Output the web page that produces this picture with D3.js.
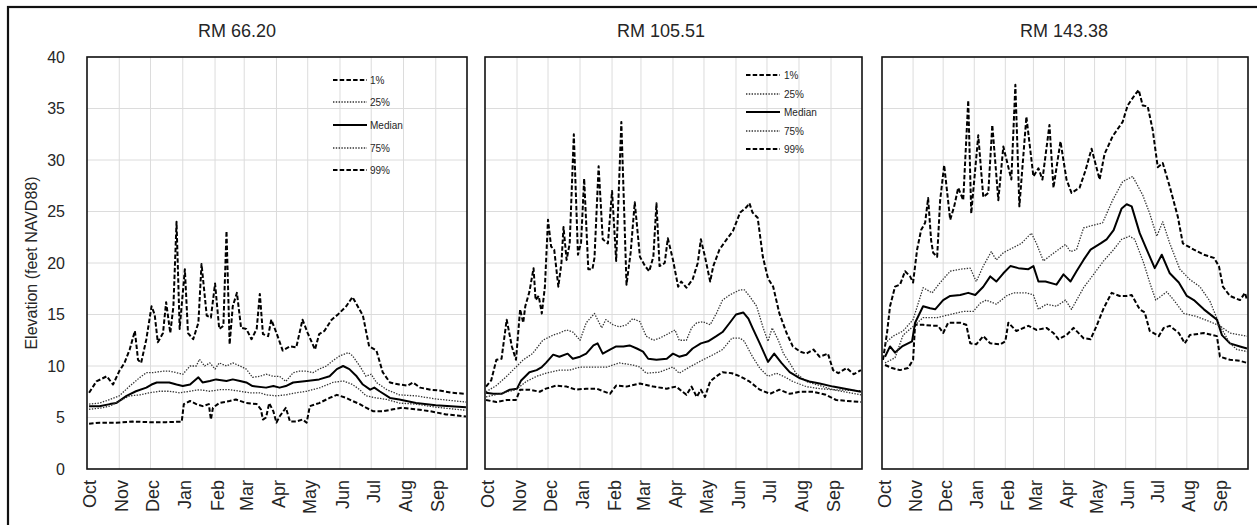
<!DOCTYPE html>
<html><head><meta charset="utf-8">
<script src="https://cdn.jsdelivr.net/npm/d3@7"></script>
<style>body{margin:0;background:#fff}svg{display:block}</style>
</head><body>
<svg id="chart" width="1257" height="525"></svg>
<script>
// ---------- data ----------
const monthLabels = ["Oct","Nov","Dec","Jan","Feb","Mar","Apr","May","Jun","Jul","Aug","Sep"];
const yTickValues = [0,5,10,15,20,25,30,35,40];
const seriesNames = ["1%","25%","Median","75%","99%"];
const yTitle = "Elevation (feet NAVD88)";
const panelTitles = ["RM 66.20","RM 105.51","RM 143.38"];

// values: [days since Oct 1, elevation (ft)]
const rm66_p01 = [[2,7.4],[9,8.5],[19,9.0],[25,8.2],[31,9.5],[36,10.3],[41,11.6],[46,13.4],[49,10.6],[52,10.3],[57,12.6],[62,15.8],[65,15.0],[68,12.3],[73,13.2],[76,16.2],[80,13.2],[83,15.8],[86,24.0],[89,13.6],[94,19.4],[97,13.2],[102,12.6],[107,14.2],[110,19.9],[115,14.9],[119,14.7],[123,18.0],[127,13.6],[131,13.9],[134,23.1],[137,12.1],[140,15.8],[144,17.1],[148,13.7],[153,13.6],[158,12.6],[163,13.6],[166,17.0],[169,13.1],[174,12.9],[177,14.5],[182,13.2],[188,11.5],[195,11.9],[201,11.8],[207,14.5],[212,13.2],[219,11.6],[223,13.1],[228,13.4],[235,14.5],[241,15.0],[249,15.8],[255,16.7],[260,15.8],[265,14.9],[271,11.9],[278,11.5],[284,9.4],[291,8.4],[300,8.2],[308,8.1],[313,8.4],[320,7.9],[330,7.7],[340,7.6],[350,7.4],[364,7.3]];
const rm66_p25 = [[2,6.3],[12,6.4],[22,6.75],[31,7.1],[41,8.05],[51,8.9],[57,9.35],[63,9.35],[73,9.5],[79,9.5],[86,9.35],[92,9.2],[99,10.0],[105,10.0],[108,10.65],[113,10.0],[118,10.3],[123,9.7],[127,10.3],[134,10.0],[140,10.3],[147,10.0],[153,9.7],[159,8.9],[166,9.0],[172,9.2],[179,9.0],[185,9.0],[191,8.5],[198,9.35],[204,9.5],[211,9.5],[217,9.35],[223,9.7],[230,10.0],[236,10.5],[243,11.0],[251,11.3],[255,11.0],[262,10.0],[268,9.0],[273,9.2],[278,8.4],[288,7.7],[300,7.2],[316,7.1],[335,6.8],[364,6.5]];
const rm66_med = [[2,6.1],[12,6.1],[22,6.3],[28,6.4],[38,7.1],[47,7.55],[57,7.9],[62,8.2],[67,8.4],[73,8.4],[79,8.4],[86,8.2],[92,8.05],[99,8.2],[107,8.9],[111,8.4],[118,8.55],[124,8.7],[134,8.55],[140,8.7],[147,8.55],[153,8.4],[159,8.05],[172,7.9],[179,8.05],[185,7.9],[191,8.05],[198,8.4],[211,8.55],[223,8.7],[233,9.0],[240,9.7],[246,10.0],[252,9.7],[259,9.0],[265,8.2],[272,7.7],[276,7.9],[281,7.55],[291,6.9],[300,6.75],[316,6.4],[335,6.2],[364,6.0]];
const rm66_p75 = [[2,5.8],[12,5.9],[22,6.1],[31,6.6],[41,7.1],[51,7.2],[60,7.4],[70,7.55],[79,7.55],[89,7.4],[99,7.55],[108,7.7],[118,7.55],[127,7.7],[137,7.7],[147,7.55],[156,7.4],[166,7.4],[172,7.2],[182,7.1],[191,7.2],[201,7.4],[211,7.55],[224,7.9],[236,8.4],[246,8.55],[255,8.2],[262,7.7],[268,7.1],[278,6.9],[288,6.75],[300,6.4],[316,6.3],[335,6.0],[364,5.7]];
const rm66_p99 = [[2,4.4],[12,4.5],[28,4.5],[44,4.6],[60,4.55],[76,4.55],[91,4.6],[93,6.3],[99,6.6],[105,6.3],[111,6.1],[117,6.3],[119,4.8],[121,5.95],[127,6.4],[137,6.6],[143,6.75],[153,6.4],[163,6.3],[167,5.8],[169,4.8],[172,5.0],[175,6.4],[179,5.6],[182,4.5],[185,5.1],[191,5.95],[195,4.6],[201,4.6],[207,4.8],[211,4.5],[214,6.1],[223,6.4],[233,6.9],[240,7.2],[249,6.9],[255,6.6],[262,6.3],[268,5.95],[275,5.6],[284,5.6],[294,5.8],[303,5.95],[316,5.8],[330,5.6],[345,5.3],[364,5.1]];

const rm105_p01 = [[1,8.0],[6,8.6],[11,10.6],[16,10.7],[21,14.5],[26,11.9],[30,10.6],[34,15.5],[37,14.2],[39,15.8],[43,17.2],[47,19.5],[49,16.4],[52,16.8],[55,15.1],[58,17.7],[61,24.2],[64,21.6],[67,21.3],[71,17.7],[74,20.0],[76,23.5],[79,20.3],[82,21.9],[86,32.5],[90,20.8],[93,22.0],[96,28.2],[100,19.4],[104,19.4],[106,20.5],[110,29.4],[114,22.3],[119,21.9],[123,27.0],[127,20.2],[132,33.7],[137,17.9],[141,21.0],[145,25.9],[150,20.6],[155,19.7],[159,19.2],[163,20.6],[166,25.8],[169,19.7],[174,20.0],[177,22.4],[182,20.3],[187,17.7],[190,18.2],[195,17.6],[201,18.4],[206,20.0],[209,22.3],[213,20.6],[218,18.2],[221,19.7],[227,21.3],[234,22.3],[240,23.1],[247,24.9],[253,25.4],[256,25.8],[259,24.9],[264,24.4],[269,20.6],[274,18.5],[279,17.7],[285,15.1],[292,13.2],[298,11.9],[305,11.4],[311,11.2],[318,11.6],[324,10.9],[332,11.2],[337,9.6],[342,9.3],[350,9.8],[357,9.2],[364,9.6]];
const rm105_p25 = [[1,7.5],[11,8.1],[21,9.0],[30,9.9],[37,10.6],[46,11.2],[56,12.5],[66,13.0],[72,13.2],[79,13.5],[85,13.3],[92,12.5],[98,14.2],[106,15.1],[113,13.7],[117,14.5],[124,14.0],[130,13.8],[137,14.0],[143,14.6],[150,14.3],[156,12.9],[163,12.5],[169,12.7],[175,13.0],[184,13.5],[188,12.5],[195,12.5],[200,13.7],[205,14.2],[211,14.3],[218,14.0],[224,15.1],[230,16.4],[237,16.9],[247,17.4],[251,17.4],[256,16.8],[263,15.8],[269,13.8],[274,12.4],[278,13.7],[284,12.5],[289,11.2],[295,10.3],[301,9.3],[311,8.5],[324,8.1],[337,7.7],[364,7.6]];
const rm105_med = [[1,7.4],[8,7.3],[16,7.3],[24,7.7],[31,7.8],[35,8.6],[43,9.4],[50,9.6],[55,9.9],[59,10.3],[66,11.1],[72,10.9],[80,11.2],[85,10.7],[92,10.9],[98,11.2],[105,12.0],[109,12.2],[114,11.2],[121,11.6],[127,11.9],[134,11.9],[140,12.0],[147,11.7],[153,11.4],[158,10.7],[166,10.6],[176,10.7],[182,11.2],[188,10.9],[195,11.1],[201,11.7],[209,12.2],[216,12.4],[224,12.9],[230,13.3],[237,14.2],[243,15.0],[250,15.2],[255,14.6],[259,13.7],[266,12.2],[274,10.4],[280,11.2],[287,10.3],[295,9.4],[305,8.8],[314,8.5],[324,8.3],[337,8.0],[364,7.5]];
const rm105_p75 = [[1,7.0],[14,7.3],[30,7.7],[40,8.5],[50,9.0],[59,9.3],[72,9.6],[82,9.6],[92,9.9],[105,9.9],[118,9.9],[130,10.3],[143,10.1],[150,9.9],[156,9.3],[169,9.4],[182,9.9],[188,9.3],[198,9.9],[211,10.6],[221,11.1],[230,11.6],[239,12.7],[247,12.7],[251,12.4],[259,10.9],[266,9.8],[274,9.0],[282,9.3],[289,9.0],[298,8.5],[311,8.0],[324,7.8],[337,7.7],[364,7.2]];
const rm105_p99 = [[1,6.7],[11,6.5],[21,6.7],[30,6.7],[34,7.7],[43,7.7],[53,7.5],[59,7.8],[69,8.1],[79,8.0],[88,7.7],[98,7.8],[108,7.8],[121,7.3],[127,8.1],[137,8.0],[150,8.3],[163,8.0],[176,7.8],[185,8.0],[195,7.2],[200,8.0],[205,7.0],[209,7.7],[213,7.0],[218,8.5],[224,9.0],[230,9.4],[239,9.3],[247,9.0],[256,8.5],[266,7.7],[276,7.3],[285,7.7],[295,7.3],[305,7.5],[318,7.5],[330,7.2],[340,6.7],[364,6.5]];

const rm143_p01 = [[1,10.6],[5,13.2],[8,15.8],[13,17.7],[18,17.9],[23,19.2],[28,18.7],[31,18.1],[35,21.3],[39,23.2],[43,23.9],[46,26.3],[49,22.2],[51,21.0],[55,20.6],[58,26.1],[62,29.5],[68,24.2],[72,25.5],[76,27.3],[81,26.1],[86,35.8],[89,24.8],[96,32.4],[101,26.4],[106,26.8],[110,33.4],[116,26.1],[121,31.3],[129,28.1],[133,37.3],[137,25.5],[144,34.2],[151,28.4],[156,29.2],[160,28.1],[167,33.4],[171,27.3],[178,31.8],[184,28.1],[189,26.8],[197,27.3],[203,29.0],[209,31.1],[217,28.1],[222,30.6],[230,32.3],[240,33.7],[245,35.3],[252,36.3],[256,36.8],[260,35.3],[265,35.2],[270,32.9],[275,29.3],[280,29.7],[287,27.4],[295,24.5],[300,21.9],[311,21.3],[321,20.8],[331,20.5],[336,19.7],[340,17.7],[347,16.8],[357,16.4],[362,17.1],[364,16.4]];
const rm143_p25 = [[3,12.2],[11,12.9],[21,13.4],[31,14.5],[41,17.6],[50,17.1],[58,18.1],[68,19.2],[78,19.4],[88,19.5],[94,18.2],[101,19.7],[109,21.1],[114,20.3],[121,21.0],[131,21.5],[139,21.9],[149,22.9],[154,21.9],[161,20.2],[169,20.8],[183,21.8],[188,21.1],[194,21.3],[201,23.4],[208,23.6],[220,23.9],[230,26.1],[240,27.9],[250,28.4],[260,26.6],[267,24.8],[274,22.6],[280,24.0],[287,21.9],[297,19.4],[307,18.4],[317,17.7],[327,16.3],[337,13.9],[347,13.2],[364,12.9]];
const rm143_med = [[3,10.9],[8,11.9],[13,11.3],[20,11.9],[30,12.4],[33,14.2],[41,15.8],[48,15.6],[53,15.5],[61,16.4],[68,16.8],[78,16.9],[86,17.1],[93,16.9],[101,17.7],[108,18.7],[114,18.2],[121,19.0],[128,19.7],[136,19.5],[146,19.4],[151,19.7],[156,18.2],[163,18.2],[174,17.9],[181,18.9],[188,18.2],[194,19.2],[201,20.3],[208,21.3],[218,21.9],[224,22.3],[231,23.2],[239,25.3],[244,25.7],[249,25.5],[257,22.9],[264,21.3],[272,19.5],[279,20.8],[287,19.0],[296,18.1],[304,16.8],[311,16.4],[321,15.5],[334,14.5],[339,13.0],[347,12.2],[357,11.9],[364,11.7]];
const rm143_p75 = [[3,10.3],[13,10.8],[21,13.0],[33,14.0],[41,14.7],[55,14.7],[68,15.0],[81,15.3],[91,15.3],[98,16.1],[104,16.4],[114,16.0],[124,16.8],[131,17.1],[144,17.1],[151,16.9],[156,15.5],[164,16.0],[174,15.8],[183,16.4],[189,15.5],[201,17.6],[211,18.9],[221,20.2],[231,21.3],[239,22.3],[247,22.6],[252,22.3],[261,20.0],[267,18.1],[273,16.4],[284,17.2],[291,16.4],[301,15.1],[314,14.8],[327,14.3],[337,13.9],[347,12.2],[354,11.6],[364,11.4]];
const rm143_p99 = [[3,10.1],[10,9.8],[18,9.6],[26,9.8],[31,10.6],[33,14.0],[41,14.0],[51,13.9],[56,13.9],[61,13.2],[66,14.2],[78,14.2],[84,14.0],[88,12.2],[94,12.1],[101,12.9],[108,12.2],[118,12.1],[123,12.4],[126,14.2],[134,13.4],[146,13.9],[154,13.5],[164,13.7],[171,13.2],[176,12.6],[184,13.0],[191,13.7],[201,12.7],[208,12.6],[214,13.9],[221,15.6],[229,17.1],[237,16.8],[244,16.8],[249,16.9],[257,15.5],[262,15.2],[267,13.4],[276,12.9],[281,13.7],[287,13.9],[296,13.2],[302,12.2],[307,13.0],[321,13.2],[334,12.9],[337,10.9],[347,10.6],[357,10.5],[364,10.3]];

// ---------- layout / styles ----------
const styles = {
  "1%":    {stroke:"#000", width:2,   dash:"4.5,2.2"},
  "25%":   {stroke:"#333", width:1.3, dash:"1.4,1.4"},
  "Median":{stroke:"#000", width:2,   dash:null},
  "75%":   {stroke:"#333", width:1.3, dash:"1.4,1.4"},
  "99%":   {stroke:"#000", width:2,   dash:"4.5,2.2"}
};
const panels = [
  {title:panelTitles[0], titleX:237, left:87,  right:467,  series:[rm66_p01,rm66_p25,rm66_med,rm66_p75,rm66_p99],
   yAxis:true, legend:{x1:333,x2:367,tx:370,ys:[80,102,125,148,170]}},
  {title:panelTitles[1], titleX:661, left:485, right:862,  series:[rm105_p01,rm105_p25,rm105_med,rm105_p75,rm105_p99],
   yAxis:false, legend:{x1:746,x2:780,tx:784,ys:[75,94,112,131,149]}},
  {title:panelTitles[2], titleX:1064, left:882, right:1248, series:[rm143_p01,rm143_p25,rm143_med,rm143_p75,rm143_p99],
   yAxis:false, legend:null}
];
const plotTop = 57, plotBottom = 469;
const startDate = new Date(2018, 9, 1), endDate = new Date(2019, 9, 1);
const font = "'Liberation Sans', Arial, sans-serif";

const svg = d3.select("#chart");
svg.append("rect").attr("width",1257).attr("height",525).attr("fill","#fff");
// outer frame
svg.append("rect").attr("x",8).attr("y",7).attr("width",1270).attr("height",540)
  .attr("fill","none").attr("stroke","#111").attr("stroke-width",2.2);

// y title
svg.append("text").attr("transform","translate(31,263) rotate(-90)")
  .attr("text-anchor","middle").attr("dominant-baseline","central")
  .style("font-family",font).style("font-size","16px").attr("fill","#262626").text(yTitle);

panels.forEach((p,pi) => {
  const x = d3.scaleTime().domain([startDate,endDate]).range([p.left,p.right]);
  const y = d3.scaleLinear().domain([0,40]).range([plotBottom,plotTop]);
  const months = d3.timeMonth.range(startDate,endDate);
  const g = svg.append("g");

  // grid
  g.append("g").selectAll("line").data(yTickValues.filter(v=>v>0)).join("line")
    .attr("x1",p.left).attr("x2",p.right).attr("y1",d=>y(d)).attr("y2",d=>y(d))
    .attr("stroke","#dcdcdc").attr("stroke-width",1);
  g.append("g").selectAll("line").data(months.slice(1)).join("line")
    .attr("x1",d=>x(d)).attr("x2",d=>x(d)).attr("y1",plotTop).attr("y2",plotBottom)
    .attr("stroke","#dcdcdc").attr("stroke-width",1);

  // clip
  svg.append("clipPath").attr("id","clip"+pi).append("rect")
    .attr("x",p.left).attr("y",plotTop).attr("width",p.right-p.left).attr("height",plotBottom-plotTop);

  const line = d3.line().x(d=>x(d3.timeDay.offset(startDate,d[0]))).y(d=>y(d[1]));
  const lg = g.append("g").attr("clip-path",`url(#clip${pi})`);
  p.series.forEach((s,si) => {
    const st = styles[seriesNames[si]];
    lg.append("path").datum(s).attr("d",line).attr("fill","none")
      .attr("stroke",st.stroke).attr("stroke-width",st.width)
      .attr("stroke-dasharray",st.dash).attr("stroke-linejoin","round");
  });

  // frame
  g.append("rect").attr("x",p.left).attr("y",plotTop).attr("width",p.right-p.left).attr("height",plotBottom-plotTop)
    .attr("fill","none").attr("stroke","#111").attr("stroke-width",1.6);

  // x axis
  const xa = g.append("g").attr("transform",`translate(0,${plotBottom})`)
    .call(d3.axisBottom(x).tickValues(months).tickSize(0).tickPadding(0)
      .tickFormat((d,i)=>monthLabels[i]));
  xa.select(".domain").remove();
  xa.selectAll("text").attr("transform","rotate(-90)").attr("text-anchor","end")
    .attr("x",-11).attr("y",0).attr("dy","0.45em")
    .style("font-family",font).style("font-size","18px").attr("fill","#262626");

  // y axis
  if (p.yAxis) {
    const ya = g.append("g").attr("transform",`translate(${p.left},0)`)
      .call(d3.axisLeft(y).tickValues(yTickValues).tickSize(0).tickPadding(22));
    ya.select(".domain").remove();
    ya.selectAll("text").style("font-family",font).style("font-size","16px").attr("fill","#262626");
  }

  // title
  g.append("text").attr("x",p.titleX).attr("y",37).attr("text-anchor","middle")
    .style("font-family",font).style("font-size","18px").attr("fill","#262626").text(p.title);

  // legend
  if (p.legend) {
    const L = p.legend;
    seriesNames.forEach((n,i) => {
      const st = styles[n];
      g.append("line").attr("x1",L.x1).attr("x2",L.x2).attr("y1",L.ys[i]).attr("y2",L.ys[i])
        .attr("stroke",st.stroke).attr("stroke-width",st.width).attr("stroke-dasharray",st.dash);
      g.append("text").attr("x",L.tx).attr("y",L.ys[i]).attr("dominant-baseline","central")
        .style("font-family",font).style("font-size","10px").attr("fill","#262626").text(n);
    });
  }
});
</script>
</body></html>
